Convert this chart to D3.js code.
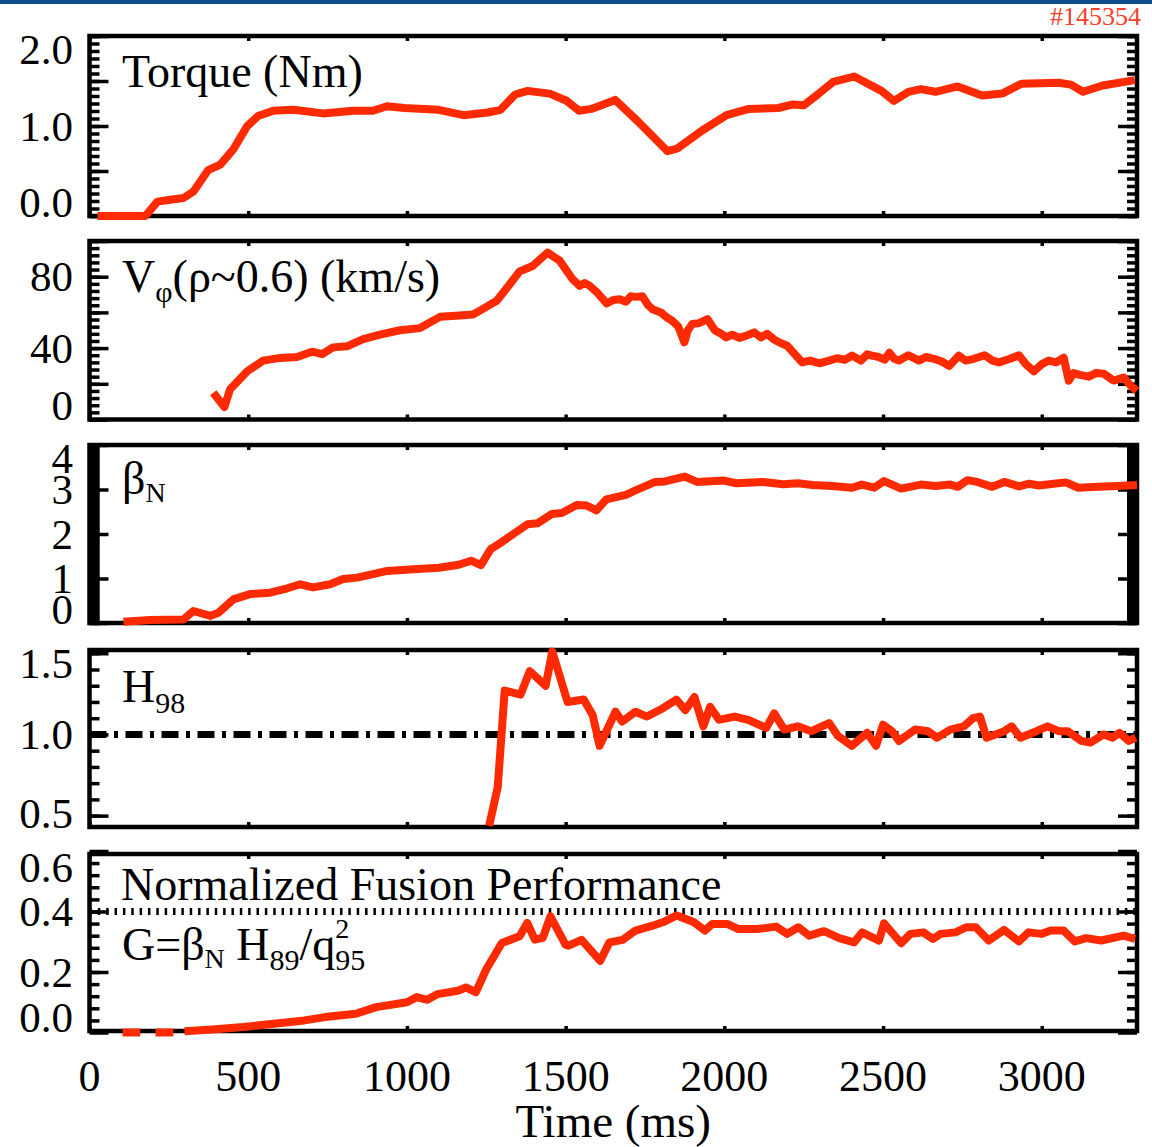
<!DOCTYPE html>
<html>
<head>
<meta charset="utf-8">
<script src="https://cdn.jsdelivr.net/npm/d3@7"></script>
<style>
body{margin:0;background:#fff;}
svg{display:block;font-family:"Liberation Serif","Times New Roman",serif;}
</style>
</head>
<body>
<svg width="1152" height="1147"></svg>
<script>
var shot = "#145354";
var timeTicks = [0,500,1000,1500,2000,2500,3000];

// torque (Nm)
var torqueT = [25,176,214,255,296,327,374,412,453,497,531,579,642,736,830,893,937,992,1100,1178,1255,1295,1341,1380,1450,1503,1542,1581,1656,1728,1821,1852,1930,2007,2077,2170,2216,2250,2294,2343,2409,2495,2534,2580,2619,2665,2735,2812,2875,2936,3053,3092,3130,3192,3293];
var torqueV = [0,0,0.16,0.18,0.20,0.27,0.51,0.57,0.74,1.0,1.11,1.17,1.18,1.14,1.17,1.17,1.22,1.20,1.18,1.12,1.15,1.18,1.35,1.39,1.36,1.28,1.17,1.19,1.29,1.05,0.72,0.75,0.95,1.12,1.19,1.20,1.24,1.23,1.35,1.49,1.55,1.39,1.28,1.38,1.41,1.38,1.44,1.34,1.36,1.47,1.48,1.46,1.38,1.45,1.51];

// toroidal rotation at rho~0.6 (km/s)
var vphiT = [390,425,443,497,547,601,654,701,733,767,811,862,915,978,1041,1104,1167,1208,1230,1283,1324,1355,1396,1443,1481,1522,1544,1560,1575,1600,1629,1650,1670,1690,1705,1723,1742,1760,1774,1800,1820,1836,1855,1874,1885,1899,1920,1947,1970,1990,2006,2025,2047,2070,2094,2115,2135,2155,2173,2198,2220,2245,2270,2299,2330,2355,2380,2403,2430,2450,2465,2487,2505,2520,2535,2550,2580,2613,2635,2660,2685,2708,2739,2760,2786,2820,2845,2865,2900,2928,2950,2975,3000,3022,3045,3069,3085,3100,3120,3148,3170,3195,3226,3258,3280,3299];
var vphiV = [15,7,17,27,33,34.5,35,38,36.6,40.4,41,45,47.5,50,51.2,57.5,58.3,58.8,61,66.5,75.8,83,86,93.5,89,78.6,74.9,76.5,75,71,65,67,67.4,66,69,68.7,69,64,61.8,60,57,55.3,52,43.2,50,53.5,54,56.2,50,48,46,47.5,45.7,47,48.8,46,48,45,43.2,41.3,37,32,33,31.5,33,34.3,33.5,35.8,33,36.5,35.8,35,33.5,37.4,34,33,36,33,35,34,32.5,30,35.8,33,34,36,33,32,34,36,31,27,31,33,32,34.6,21.8,26,25,24,26,25.7,21.8,23.5,19,16];

// beta_N
var betaT = [107,192,296,327,381,406,453,506,569,623,664,704,758,799,843,893,937,1008,1101,1163,1202,1233,1264,1295,1380,1411,1457,1488,1535,1566,1597,1628,1690,1720,1782,1813,1875,1914,1999,2038,2123,2185,2232,2278,2340,2402,2433,2472,2503,2557,2619,2665,2712,2735,2766,2797,2844,2882,2929,2960,2991,3037,3076,3115,3177,3239,3300];
var betaV = [0.03,0.07,0.08,0.27,0.16,0.23,0.53,0.65,0.68,0.78,0.87,0.80,0.87,0.99,1.02,1.10,1.17,1.20,1.24,1.31,1.40,1.30,1.66,1.80,2.22,2.24,2.45,2.47,2.65,2.64,2.53,2.78,2.88,2.98,3.17,3.18,3.29,3.17,3.20,3.14,3.17,3.12,3.14,3.10,3.08,3.04,3.11,3.04,3.19,3.02,3.11,3.08,3.11,3.06,3.21,3.17,3.06,3.17,3.07,3.13,3.09,3.13,3.16,3.04,3.06,3.08,3.10];

// H98
var h98T = [1259,1286,1308,1358,1387,1437,1458,1506,1557,1585,1607,1657,1678,1720,1756,1805,1849,1877,1906,1934,1955,1983,2032,2075,2132,2157,2189,2231,2274,2330,2358,2401,2450,2478,2500,2528,2550,2601,2642,2670,2712,2755,2783,2805,2826,2882,2905,2933,2983,3018,3053,3082,3125,3153,3195,3223,3245,3274,3296];
var h98V = [0.437,0.675,1.27,1.245,1.39,1.30,1.51,1.20,1.215,1.12,0.93,1.14,1.08,1.14,1.11,1.16,1.215,1.15,1.23,1.05,1.17,1.09,1.11,1.09,1.04,1.13,1.03,1.05,1.02,1.07,0.99,0.93,1.01,0.93,1.06,1.02,0.96,1.03,1.02,0.98,1.03,1.05,1.10,1.11,0.98,1.02,1.05,0.98,1.02,1.05,1.02,1.02,0.96,0.95,1.00,0.98,1.01,0.96,0.98];

// G = betaN H89 / q95^2  (null = gap)
var gT = [104,160,185,208,264,285,299,387,484,581,677,742,839,903,1000,1031,1064,1097,1160,1186,1217,1250,1299,1355,1379,1403,1428,1452,1500,1509,1550,1609,1638,1679,1720,1774,1808,1850,1903,1939,1962,2009,2044,2104,2163,2198,2233,2267,2314,2362,2409,2434,2487,2503,2557,2586,2627,2657,2681,2728,2763,2792,2833,2881,2928,2958,2999,3028,3069,3104,3140,3187,3258,3294];
var gV = [0,0,null,0,0,null,0.004,0.01,0.018,0.029,0.04,0.051,0.062,0.084,0.10,0.117,0.108,0.127,0.138,0.149,0.133,0.209,0.296,0.318,0.362,0.307,0.313,0.384,0.29,0.287,0.306,0.237,0.298,0.306,0.337,0.353,0.365,0.387,0.365,0.337,0.359,0.359,0.342,0.342,0.35,0.326,0.348,0.32,0.335,0.312,0.298,0.331,0.304,0.361,0.295,0.326,0.331,0.309,0.326,0.331,0.348,0.348,0.304,0.339,0.301,0.331,0.326,0.337,0.337,0.301,0.312,0.304,0.32,0.309];

var torqueTicks = [0,0.5,1,1.5,2], torqueLabels = [0,1,2];
var vphiTicks = [0,20,40,60,80,100], vphiLabels = [0,40,80];
var betaTicks = [0,1,2,3,4], betaLabels = [0,1,2,3,4];
var h98Ticks = [0.5,1,1.5], h98Labels = [0.5,1,1.5];
var gTicks = [0,0.2,0.4,0.6], gLabels = [0,0.2,0.4,0.6];
var h98Ref = 1.0, gRef = 0.4;

var red = "#ff2a00";
var svg = d3.select("svg");
var x = d3.scaleLinear().domain([0,3300]).range([89.5,1137]);
var x0 = x.range()[0], x1 = x.range()[1];

svg.append("rect").attr("x",0).attr("y",0).attr("width",1152).attr("height",4).attr("fill","#0f4c8a");
svg.append("text").attr("x",1141).attr("y",25).attr("text-anchor","end")
  .style("font-size","26px").style("fill","#f5402c").text(shot);

function stepVals(dom, s){
  return d3.range(Math.ceil(dom[0]/s-1e-9), Math.floor(dom[1]/s+1e-9)+1).map(function(i){ return i*s; });
}

function ticks(g, axis, tx, ty){
  g.append("g").attr("transform","translate("+tx+","+ty+")").call(axis)
    .call(function(a){ a.select(".domain").remove(); a.selectAll("line").attr("stroke","#000").attr("stroke-width",3.5); });
}

function panel(p){
  var y = d3.scaleLinear().domain(p.dom).range([p.bot,p.top]);
  var g = svg.append("g");
  var minors = stepVals(p.dom, p.minor);
  ticks(g, d3.axisLeft(y).tickValues(minors).tickSize(-10).tickSizeOuter(0).tickFormat(""), x0, 0);
  ticks(g, d3.axisRight(y).tickValues(minors).tickSize(-10).tickSizeOuter(0).tickFormat(""), x1, 0);
  ticks(g, d3.axisLeft(y).tickValues(p.ticks).tickSize(-19).tickSizeOuter(0).tickFormat(""), x0, 0);
  ticks(g, d3.axisRight(y).tickValues(p.ticks).tickSize(-19).tickSizeOuter(0).tickFormat(""), x1, 0);
  ticks(g, d3.axisBottom(x).tickValues(timeTicks).tickSize(5).tickSizeOuter(0).tickFormat(""), 0, p.top);
  ticks(g, d3.axisTop(x).tickValues(timeTicks).tickSize(5).tickSizeOuter(0).tickFormat(""), 0, p.bot);
  g.append("rect").attr("x",x0).attr("y",p.top).attr("width",x1-x0).attr("height",p.bot-p.top)
    .attr("fill","none").attr("stroke","#000").attr("stroke-width",4.5);

  g.selectAll("text.yl").data(p.labels).enter().append("text").attr("class","yl")
    .attr("x",73).attr("text-anchor","end").style("font-size","43px")
    .attr("y",function(d){ return Math.max(p.top+13, Math.min(p.bot-14, y(d)))+14.5; })
    .text(function(d){ return p.fmt(d); });

  if(p.ref != null){
    g.append("line").attr("x1",x0).attr("x2",x1).attr("y1",y(p.ref)).attr("y2",y(p.ref))
      .attr("stroke","#000").attr("stroke-width",p.refW).attr("stroke-dasharray",p.dash);
  }

  var pts = p.t.map(function(t,k){ return {t:t, v:p.v[k]}; });
  var line = d3.line().defined(function(d){ return d.v != null; })
    .x(function(d){ return x(d.t); }).y(function(d){ return y(d.v); });
  g.append("path").datum(pts).attr("d",line).attr("fill","none").attr("stroke",red)
    .attr("stroke-width",8).attr("stroke-linejoin","round");
  return g;
}

function rich(g, px, py, parts){
  var cx = px, last = px;
  parts.forEach(function(p){
    var t = g.append("text").attr("x", p.stack ? last : cx).attr("y", py+(p.dy||0))
      .style("font-size",(p.fs||46)+"px").text(p.t);
    if(!p.stack){ last = cx; cx += t.node().getComputedTextLength(); }
  });
}

var f1 = d3.format(".1f"), f0 = d3.format("d");
var sub = function(s){ return {t:s, fs:30, dy:10}; };

var p1 = panel({top:36, bot:216, dom:[0,2], ticks:torqueTicks, minor:0.5/6, labels:torqueLabels, fmt:f1, t:torqueT, v:torqueV});
rich(p1, 122, 87, [{t:"Torque (Nm)"}]);

var p2 = panel({top:241, bot:419.5, dom:[0,100], ticks:vphiTicks, minor:4, labels:vphiLabels, fmt:f0, t:vphiT, v:vphiV});
rich(p2, 122, 292, [{t:"V"}, sub("φ"), {t:"(ρ~0.6) (km/s)"}]);

var p3 = panel({top:445, bot:623, dom:[0,4], ticks:betaTicks, minor:0.04, labels:betaLabels, fmt:f0, t:betaT, v:betaV});
rich(p3, 122, 494, [{t:"β"}, {t:"N", fs:28, dy:8}]);

var p4 = panel({top:650, bot:827, dom:[0.43,1.52], ticks:h98Ticks, minor:0.1, labels:h98Labels, fmt:f1, t:h98T, v:h98V,
  ref:h98Ref, refW:7, dash:"17,7.5,4,7.5"});
rich(p4, 122, 702, [{t:"H"}, {t:"98", fs:30, dy:11}]);

var p5 = panel({top:854, bot:1031, dom:[0.005,0.59], ticks:gTicks, minor:0.04, labels:gLabels, fmt:f1, t:gT, v:gV,
  ref:gRef, refW:7, dash:"2.5,5.85"});
rich(p5, 121, 900, [{t:"Normalized Fusion Performance"}]);
rich(p5, 122, 960, [{t:"G=β"}, {t:"N", fs:28, dy:8}, {t:"\u00a0H"}, sub("89"), {t:"/q"}, sub("95"), {t:"2", fs:28, dy:-22, stack:true}]);

// time axis
svg.append("g").selectAll("text").data(timeTicks).enter().append("text")
  .attr("x",function(d){ return x(d); }).attr("y",1091).attr("text-anchor","middle")
  .style("font-size","44px").text(function(d){ return d; });
svg.append("text").attr("x",x(1650)).attr("y",1137).attr("text-anchor","middle")
  .style("font-size","47px").text("Time (ms)");
</script>
</body>
</html>
